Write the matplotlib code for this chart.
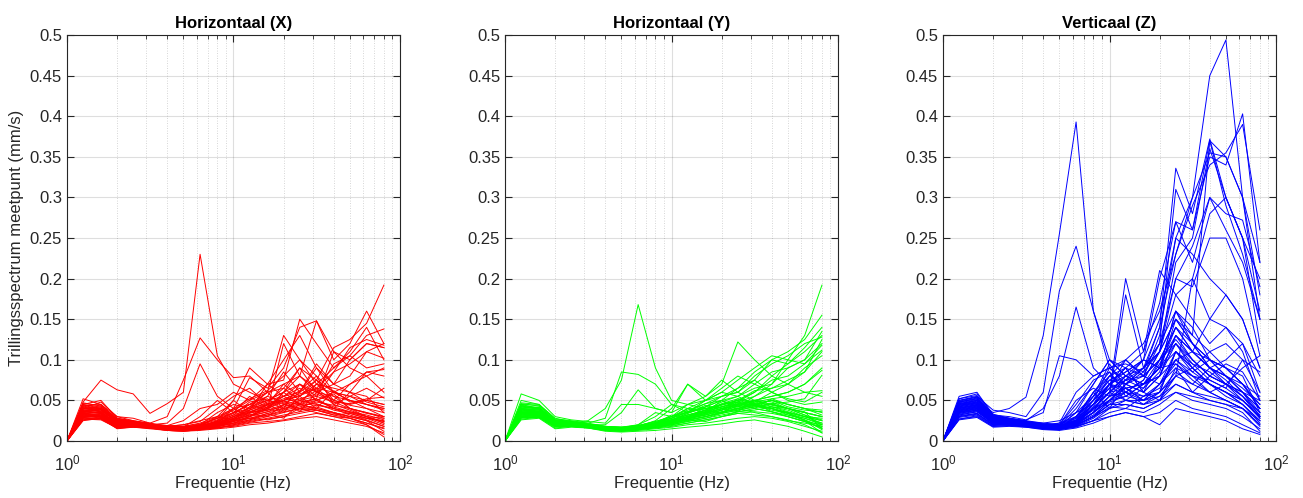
import numpy as np
import matplotlib
matplotlib.use("Agg")
import matplotlib.pyplot as plt

plt.rcParams['font.family'] = ['Liberation Sans', 'DejaVu Sans']
plt.rcParams['mathtext.fontset'] = 'custom'
plt.rcParams['mathtext.rm'] = 'Liberation Sans'

# 1/3-octave band centre frequencies (Hz)
freq = [1, 1.25, 1.6, 2, 2.5, 3.15, 4, 5, 6.3, 8, 10, 12.5, 16, 20, 25, 31.5, 40, 50, 63, 80]

# X direction spectra (mm/s), one row per measurement
spec_x = [
    [0, .048, .075, .063, .058, .034, .046, .060, .230, .105, .070, .060, .050, .055, .045, .040, .035, .030, .028, .025],
    [0, .052, .045, .030, .025, .022, .030, .075, .127, .100, .078, .080, .060, .065, .050, .045, .040, .035, .030, .022],
    [0, .045, .050, .028, .024, .020, .022, .040, .095, .055, .040, .045, .050, .060, .070, .055, .048, .040, .035, .030],
    [0, .040, .048, .030, .028, .022, .018, .020, .025, .030, .040, .078, .065, .090, .140, .148, .110, .090, .080, .060],
    [0, .030, .032, .020, .022, .018, .016, .015, .018, .025, .035, .045, .060, .130, .100, .080, .060, .050, .045, .040],
    [0, .035, .040, .025, .022, .020, .018, .018, .022, .030, .050, .090, .070, .075, .150, .120, .090, .110, .140, .100],
    [0, .038, .036, .022, .020, .019, .017, .016, .020, .028, .035, .040, .050, .060, .080, .148, .100, .120, .160, .120],
    [0, .033, .030, .018, .020, .018, .015, .014, .016, .020, .028, .035, .045, .055, .060, .075, .115, .125, .145, .192],
    [0, .028, .027, .016, .018, .016, .014, .013, .015, .018, .022, .030, .040, .050, .055, .070, .090, .105, .130, .138],
    [0, .042, .040, .026, .024, .020, .017, .016, .018, .022, .030, .038, .048, .065, .090, .060, .070, .100, .120, .115],
    [0, .036, .034, .021, .021, .019, .016, .015, .017, .020, .025, .032, .038, .045, .050, .055, .085, .095, .110, .102],
    [0, .025, .028, .015, .017, .016, .013, .012, .014, .016, .020, .025, .030, .035, .040, .050, .060, .070, .080, .090],
    [0, .030, .033, .020, .019, .017, .015, .014, .016, .019, .024, .030, .042, .055, .070, .060, .050, .045, .050, .065],
    [0, .040, .037, .024, .022, .019, .017, .016, .018, .022, .028, .036, .044, .050, .062, .080, .045, .038, .030, .024],
    [0, .034, .031, .019, .020, .018, .015, .014, .016, .020, .026, .035, .038, .042, .048, .052, .040, .032, .026, .018],
    [0, .037, .039, .023, .021, .019, .016, .015, .017, .021, .030, .042, .050, .046, .040, .038, .032, .028, .022, .015],
    [0, .032, .030, .020, .019, .017, .014, .013, .014, .016, .020, .024, .028, .032, .036, .040, .035, .030, .025, .012],
    [0, .029, .028, .017, .018, .016, .014, .013, .015, .017, .018, .022, .024, .026, .030, .034, .030, .025, .020, .008],
    [0, .044, .042, .027, .024, .021, .018, .017, .020, .026, .035, .045, .055, .048, .045, .050, .042, .036, .030, .028],
    [0, .031, .029, .018, .018, .017, .015, .014, .016, .018, .022, .028, .034, .040, .044, .046, .038, .034, .028, .020],
    [0, .027, .026, .016, .017, .016, .013, .012, .013, .015, .017, .020, .022, .025, .028, .030, .026, .022, .018, .010],
    [0, .039, .041, .025, .023, .020, .017, .016, .019, .024, .032, .040, .046, .050, .056, .064, .050, .044, .040, .035],
    [0, .046, .044, .028, .025, .021, .019, .018, .021, .028, .038, .050, .060, .070, .080, .060, .055, .050, .045, .040],
    [0, .035, .035, .022, .021, .018, .016, .015, .017, .020, .026, .034, .040, .048, .052, .058, .048, .046, .052, .054],
    [0, .033, .032, .020, .020, .017, .015, .014, .016, .019, .024, .030, .036, .044, .060, .090, .070, .060, .085, .088],
    [0, .030, .031, .019, .019, .017, .014, .013, .015, .018, .021, .026, .032, .038, .042, .048, .044, .040, .034, .030],
    [0, .041, .038, .023, .022, .020, .017, .016, .018, .021, .027, .031, .036, .040, .046, .052, .110, .100, .120, .115],
    [0, .026, .027, .016, .017, .015, .013, .012, .014, .016, .019, .023, .027, .030, .034, .038, .034, .028, .022, .016],
    [0, .037, .034, .022, .020, .018, .016, .015, .017, .020, .025, .028, .032, .036, .040, .044, .040, .036, .032, .026],
    [0, .043, .039, .025, .023, .020, .018, .017, .019, .023, .030, .038, .045, .052, .058, .065, .060, .055, .050, .045],
    [0, .036, .038, .024, .021, .019, .016, .014, .020, .035, .045, .040, .055, .085, .060, .095, .070, .080, .110, .120],
    [0, .041, .036, .022, .023, .020, .018, .017, .015, .025, .050, .035, .040, .120, .080, .065, .085, .115, .125, .118],
    [0, .047, .043, .027, .024, .021, .019, .025, .040, .045, .060, .050, .070, .100, .130, .090, .060, .055, .045, .038],
    [0, .034, .033, .021, .020, .018, .016, .017, .030, .050, .035, .055, .040, .060, .045, .070, .055, .040, .030, .022],
    [0, .029, .031, .019, .019, .017, .015, .014, .019, .022, .040, .030, .045, .035, .055, .040, .062, .048, .050, .045],
    [0, .038, .040, .023, .022, .019, .017, .016, .018, .030, .026, .042, .060, .040, .070, .050, .040, .060, .055, .035],
    [0, .043, .045, .026, .024, .021, .018, .020, .024, .040, .055, .065, .045, .070, .055, .075, .060, .050, .040, .030],
    [0, .032, .029, .018, .019, .017, .015, .014, .016, .024, .032, .048, .052, .038, .050, .062, .045, .055, .065, .053],
    [0, .026, .030, .017, .018, .016, .014, .013, .015, .017, .024, .028, .026, .030, .040, .035, .030, .028, .020, .005],
    [0, .037, .035, .022, .021, .019, .016, .015, .017, .021, .028, .038, .070, .055, .065, .050, .058, .040, .035, .028],
    [0, .040, .042, .025, .023, .020, .017, .016, .019, .024, .034, .045, .038, .060, .090, .075, .050, .070, .085, .080],
    [0, .031, .034, .020, .020, .018, .015, .014, .017, .019, .025, .033, .030, .045, .038, .042, .035, .030, .025, .018],
    [0, .045, .040, .026, .024, .021, .018, .017, .020, .028, .040, .052, .062, .080, .100, .070, .065, .060, .048, .042],
    [0, .033, .036, .021, .020, .018, .016, .015, .018, .023, .030, .036, .042, .050, .036, .060, .095, .105, .090, .095],
    [0, .028, .028, .017, .018, .016, .014, .013, .016, .019, .022, .026, .034, .028, .046, .038, .032, .034, .028, .024],
]

# Y direction spectra (mm/s)
spec_y = [
    [0, .045, .040, .025, .022, .025, .040, .075, .168, .090, .050, .045, .040, .042, .040, .035, .030, .025, .022, .018],
    [0, .050, .045, .028, .024, .022, .028, .085, .082, .070, .045, .040, .038, .045, .050, .045, .040, .035, .030, .025],
    [0, .040, .042, .024, .022, .020, .020, .035, .063, .040, .035, .045, .050, .055, .060, .050, .045, .040, .035, .030],
    [0, .058, .050, .030, .026, .024, .022, .045, .045, .040, .035, .070, .055, .070, .122, .100, .080, .070, .060, .055],
    [0, .035, .035, .022, .022, .020, .016, .015, .017, .022, .030, .040, .050, .060, .075, .090, .105, .100, .130, .192],
    [0, .032, .033, .020, .020, .019, .015, .014, .016, .020, .026, .034, .042, .055, .060, .075, .100, .110, .125, .155],
    [0, .038, .036, .022, .021, .019, .016, .015, .017, .022, .028, .036, .046, .050, .065, .085, .100, .095, .115, .140],
    [0, .030, .031, .019, .019, .018, .014, .013, .015, .018, .022, .028, .034, .045, .050, .060, .080, .095, .110, .130],
    [0, .036, .034, .021, .020, .019, .015, .014, .016, .019, .024, .030, .038, .048, .055, .070, .085, .090, .100, .120],
    [0, .042, .039, .024, .022, .020, .017, .016, .018, .022, .026, .032, .036, .042, .048, .060, .075, .080, .095, .112],
    [0, .028, .030, .018, .018, .017, .013, .012, .014, .017, .020, .025, .030, .035, .040, .048, .060, .070, .085, .125],
    [0, .034, .032, .020, .020, .018, .015, .014, .016, .018, .022, .028, .032, .038, .045, .050, .055, .060, .070, .087],
    [0, .040, .038, .023, .021, .019, .016, .015, .017, .020, .025, .030, .035, .040, .045, .048, .052, .055, .060, .062],
    [0, .031, .030, .019, .019, .017, .014, .013, .015, .017, .020, .024, .028, .034, .038, .042, .046, .048, .052, .081],
    [0, .037, .036, .022, .021, .019, .016, .015, .017, .020, .024, .030, .034, .040, .045, .050, .048, .040, .035, .030],
    [0, .044, .041, .025, .023, .020, .017, .016, .018, .022, .028, .035, .040, .045, .048, .044, .040, .035, .030, .025],
    [0, .033, .031, .020, .020, .018, .015, .014, .015, .017, .020, .024, .028, .032, .036, .040, .036, .032, .028, .020],
    [0, .029, .029, .017, .018, .016, .013, .012, .013, .015, .017, .020, .022, .025, .028, .030, .028, .024, .018, .012],
    [0, .026, .028, .015, .017, .016, .012, .011, .012, .013, .015, .017, .019, .021, .024, .026, .022, .018, .012, .005],
    [0, .039, .037, .022, .021, .019, .016, .015, .017, .021, .026, .032, .036, .042, .046, .050, .045, .040, .032, .026],
    [0, .035, .033, .021, .020, .018, .015, .014, .016, .019, .023, .028, .032, .038, .042, .046, .042, .038, .030, .022],
    [0, .046, .043, .026, .024, .021, .018, .017, .019, .024, .030, .036, .042, .050, .055, .045, .050, .045, .040, .035],
    [0, .032, .032, .019, .019, .017, .014, .013, .015, .018, .021, .026, .030, .036, .040, .044, .038, .034, .026, .018],
    [0, .041, .040, .024, .022, .020, .016, .015, .017, .020, .025, .030, .036, .046, .052, .048, .044, .040, .036, .015],
    [0, .037, .035, .022, .021, .019, .016, .015, .016, .019, .022, .026, .030, .034, .038, .042, .040, .034, .025, .010],
    [0, .030, .031, .018, .019, .017, .014, .013, .014, .016, .018, .022, .026, .030, .034, .036, .034, .030, .024, .016],
    [0, .043, .040, .025, .023, .020, .017, .016, .018, .021, .026, .032, .038, .044, .050, .062, .065, .070, .090, .105],
    [0, .034, .034, .021, .020, .018, .015, .014, .016, .018, .022, .026, .030, .035, .040, .045, .050, .045, .040, .038],
    [0, .039, .036, .022, .021, .019, .016, .015, .017, .020, .024, .028, .034, .040, .044, .040, .036, .030, .024, .020],
    [0, .036, .034, .021, .020, .018, .015, .014, .016, .019, .023, .027, .032, .036, .040, .044, .040, .032, .026, .014],
    [0, .040, .038, .023, .022, .020, .017, .016, .018, .025, .040, .070, .050, .060, .055, .065, .070, .090, .100, .135],
    [0, .036, .035, .021, .021, .019, .016, .015, .020, .035, .030, .045, .055, .075, .060, .080, .095, .105, .120, .128],
    [0, .045, .044, .026, .024, .021, .018, .017, .020, .030, .045, .035, .050, .065, .080, .070, .060, .050, .045, .048],
    [0, .033, .034, .020, .020, .018, .015, .014, .017, .021, .028, .040, .035, .050, .042, .055, .070, .100, .095, .118],
    [0, .029, .030, .018, .019, .017, .014, .013, .015, .019, .024, .030, .038, .034, .048, .040, .052, .045, .040, .032],
    [0, .042, .041, .024, .023, .020, .017, .016, .018, .022, .032, .028, .042, .050, .038, .046, .040, .034, .028, .022],
    [0, .038, .037, .022, .021, .019, .016, .015, .017, .020, .026, .034, .044, .038, .052, .045, .050, .042, .038, .036],
    [0, .031, .032, .019, .019, .018, .014, .013, .016, .018, .022, .026, .024, .030, .036, .050, .042, .036, .030, .028],
    [0, .047, .045, .027, .025, .022, .018, .017, .019, .024, .030, .038, .046, .055, .065, .075, .060, .052, .048, .060],
    [0, .035, .033, .020, .020, .018, .015, .014, .016, .020, .025, .030, .036, .042, .048, .055, .065, .075, .085, .110],
    [0, .027, .029, .016, .018, .016, .013, .012, .014, .016, .019, .022, .026, .030, .034, .032, .030, .026, .020, .010],
    [0, .043, .040, .025, .023, .020, .017, .016, .019, .023, .028, .036, .040, .045, .042, .050, .055, .060, .070, .090],
    [0, .039, .039, .023, .022, .020, .016, .015, .017, .021, .026, .032, .038, .035, .044, .046, .036, .030, .024, .016],
    [0, .032, .031, .019, .019, .017, .014, .013, .015, .017, .021, .027, .033, .040, .036, .038, .042, .040, .035, .030],
    [0, .034, .036, .021, .020, .018, .015, .014, .016, .019, .024, .029, .034, .038, .046, .042, .046, .040, .032, .020],
]

# Z direction spectra (mm/s)
spec_z = [
    [0, .045, .050, .035, .040, .054, .130, .255, .393, .160, .100, .080, .070, .090, .120, .100, .080, .070, .060, .040],
    [0, .050, .055, .038, .035, .030, .060, .185, .240, .160, .090, .075, .080, .100, .140, .110, .090, .080, .065, .045],
    [0, .040, .045, .030, .028, .025, .040, .080, .165, .090, .070, .065, .070, .090, .110, .095, .085, .070, .060, .050],
    [0, .055, .060, .032, .030, .026, .035, .105, .100, .080, .090, .095, .085, .110, .150, .120, .100, .080, .070, .055],
    [0, .048, .052, .030, .026, .024, .022, .025, .035, .045, .060, .080, .100, .150, .250, .300, .450, .494, .300, .220],
    [0, .042, .046, .028, .025, .022, .020, .022, .030, .050, .070, .090, .110, .170, .270, .260, .350, .340, .403, .220],
    [0, .052, .058, .033, .028, .025, .022, .020, .028, .060, .080, .100, .120, .160, .230, .290, .340, .355, .390, .260],
    [0, .038, .042, .026, .024, .022, .019, .018, .025, .040, .060, .075, .090, .140, .336, .280, .372, .300, .250, .200],
    [0, .035, .040, .024, .023, .021, .018, .017, .022, .035, .050, .070, .080, .120, .310, .260, .370, .350, .300, .150],
    [0, .046, .050, .029, .026, .023, .020, .019, .026, .045, .070, .085, .100, .200, .270, .220, .300, .280, .272, .190],
    [0, .032, .036, .022, .022, .020, .017, .016, .020, .030, .045, .060, .075, .110, .220, .250, .360, .300, .250, .120],
    [0, .044, .048, .028, .025, .022, .019, .018, .024, .040, .060, .200, .110, .210, .180, .200, .280, .300, .250, .160],
    [0, .036, .040, .024, .023, .021, .018, .017, .022, .035, .055, .180, .090, .120, .200, .190, .250, .250, .200, .105],
    [0, .050, .054, .031, .027, .024, .021, .020, .030, .050, .090, .100, .080, .130, .250, .230, .200, .180, .150, .090],
    [0, .040, .044, .026, .024, .021, .018, .017, .023, .045, .080, .070, .090, .110, .180, .150, .120, .140, .120, .060],
    [0, .030, .034, .020, .021, .019, .016, .015, .019, .030, .050, .065, .070, .090, .160, .120, .100, .090, .070, .040],
    [0, .043, .047, .027, .025, .022, .019, .018, .024, .050, .075, .070, .060, .100, .140, .110, .090, .080, .060, .035],
    [0, .037, .041, .025, .023, .021, .018, .017, .021, .040, .060, .080, .070, .080, .130, .100, .080, .070, .050, .030],
    [0, .027, .030, .018, .019, .018, .015, .014, .018, .025, .040, .050, .050, .060, .110, .090, .070, .060, .045, .025],
    [0, .034, .038, .023, .022, .020, .017, .016, .020, .035, .070, .060, .050, .070, .100, .080, .060, .050, .040, .020],
    [0, .047, .051, .030, .026, .023, .020, .019, .025, .055, .080, .090, .060, .080, .120, .095, .075, .065, .050, .030],
    [0, .041, .045, .027, .024, .022, .019, .018, .022, .040, .060, .050, .045, .060, .080, .070, .090, .080, .060, .040],
    [0, .029, .032, .019, .020, .018, .015, .014, .017, .025, .035, .040, .035, .045, .060, .050, .045, .040, .030, .015],
    [0, .039, .043, .025, .023, .021, .018, .017, .021, .035, .050, .055, .050, .055, .070, .060, .080, .070, .055, .035],
    [0, .033, .037, .022, .021, .020, .017, .016, .019, .030, .045, .045, .040, .050, .060, .055, .050, .045, .035, .012],
    [0, .045, .049, .028, .025, .022, .019, .018, .023, .045, .070, .080, .070, .090, .095, .080, .070, .060, .050, .030],
    [0, .036, .039, .023, .022, .020, .017, .016, .020, .035, .055, .060, .045, .050, .090, .060, .050, .045, .040, .020],
    [0, .031, .034, .020, .020, .019, .016, .015, .018, .025, .030, .035, .030, .020, .040, .035, .030, .025, .015, .008],
    [0, .042, .046, .026, .024, .021, .018, .017, .021, .035, .050, .060, .055, .065, .100, .110, .150, .140, .110, .050],
    [0, .048, .052, .029, .026, .023, .020, .019, .024, .045, .065, .075, .065, .085, .150, .120, .090, .100, .120, .080],
    [0, .038, .042, .024, .023, .021, .018, .017, .020, .030, .040, .045, .040, .050, .070, .060, .055, .050, .040, .025],
    [0, .026, .029, .017, .018, .017, .014, .013, .016, .022, .030, .035, .030, .035, .050, .040, .035, .030, .020, .010],
    [0, .044, .047, .027, .025, .022, .019, .018, .022, .040, .060, .065, .055, .070, .110, .090, .110, .120, .100, .060],
    [0, .035, .038, .022, .022, .020, .017, .016, .019, .030, .045, .050, .045, .055, .080, .200, .150, .180, .150, .090],
    [0, .046, .050, .030, .026, .023, .020, .019, .040, .070, .100, .080, .090, .120, .160, .140, .100, .090, .070, .040],
    [0, .040, .044, .026, .024, .021, .018, .022, .060, .080, .090, .070, .085, .140, .230, .300, .355, .350, .300, .180],
    [0, .036, .040, .024, .023, .020, .017, .016, .030, .060, .085, .060, .075, .110, .150, .130, .370, .290, .230, .150],
    [0, .032, .036, .021, .021, .019, .016, .015, .025, .050, .070, .090, .060, .080, .130, .110, .100, .080, .060, .030],
    [0, .048, .053, .031, .027, .024, .020, .020, .050, .065, .055, .075, .100, .090, .140, .120, .090, .075, .055, .028],
    [0, .043, .047, .027, .025, .022, .019, .018, .035, .055, .095, .065, .050, .060, .110, .085, .100, .090, .070, .045],
    [0, .038, .042, .025, .023, .021, .018, .017, .028, .045, .065, .100, .080, .070, .095, .075, .060, .070, .055, .032],
    [0, .030, .033, .020, .020, .018, .015, .014, .022, .040, .050, .070, .060, .050, .080, .090, .070, .055, .045, .022],
    [0, .052, .056, .032, .028, .024, .021, .020, .045, .075, .085, .055, .070, .100, .125, .100, .080, .095, .085, .050],
    [0, .041, .044, .026, .024, .021, .018, .017, .030, .055, .075, .085, .100, .090, .160, .130, .110, .090, .080, .035],
    [0, .034, .038, .022, .022, .020, .017, .016, .021, .032, .048, .055, .070, .080, .100, .085, .070, .060, .050, .028],
    [0, .045, .048, .028, .025, .022, .019, .018, .026, .060, .040, .070, .090, .110, .200, .240, .300, .260, .220, .150],
    [0, .039, .043, .025, .023, .021, .018, .017, .025, .042, .070, .050, .065, .095, .130, .110, .090, .070, .090, .105],
    [0, .027, .031, .018, .019, .017, .015, .014, .018, .028, .042, .040, .055, .060, .085, .070, .060, .050, .040, .018],
    [0, .049, .054, .031, .027, .024, .020, .019, .035, .070, .100, .090, .080, .100, .120, .090, .070, .060, .045, .025],
    [0, .037, .041, .024, .023, .020, .017, .016, .023, .038, .055, .065, .050, .070, .090, .080, .075, .065, .100, .085],
]

titles = ['Horizontaal (X)', 'Horizontaal (Y)', 'Verticaal (Z)']
colors = ['#ff0000', '#00ff00', '#0000ff']
all_spec = [spec_x, spec_y, spec_z]
lefts = [0.0514, 0.3876, 0.7237]

axis_col = '#262626'

fig = plt.figure(figsize=(13.03, 4.98), dpi=100)

for i in range(3):
    ax = fig.add_axes([lefts[i], 0.1145, 0.2556, 0.815])
    for row in all_spec[i]:
        ax.plot(freq, row, color=colors[i], lw=0.7)
    ax.set_xscale('log')
    ax.set_xlim(1, 100)
    ax.set_ylim(0, 0.5)
    ax.set_yticks(np.arange(0, 0.51, 0.05))
    ax.set_yticklabels(['0', '0.05', '0.1', '0.15', '0.2', '0.25', '0.3',
                        '0.35', '0.4', '0.45', '0.5'])
    ax.grid(True, which='major', color='#262626', alpha=0.15, lw=0.8)
    ax.grid(True, which='minor', axis='x', color='#262626', alpha=0.25,
            lw=0.6, linestyle=(0, (1, 2)))
    ax.tick_params(which='both', direction='in', top=True, right=True,
                   colors=axis_col, labelsize=12, labelcolor=axis_col)
    ax.tick_params(which='major', length=5)
    ax.tick_params(which='minor', length=3)
    ax.tick_params(axis='x', which='major', pad=9)
    for s in ax.spines.values():
        s.set_color(axis_col)
        s.set_linewidth(0.8)
    ax.set_title(titles[i], fontsize=12, fontweight='bold', color='black', pad=5)
    ax.set_xlabel('Frequentie (Hz)', fontsize=12, color=axis_col, labelpad=2)
    if i == 0:
        ax.set_ylabel('Trillingsspectrum meetpunt (mm/s)', fontsize=12,
                      color=axis_col, labelpad=4)

fig.savefig('out.png', dpi=100)
